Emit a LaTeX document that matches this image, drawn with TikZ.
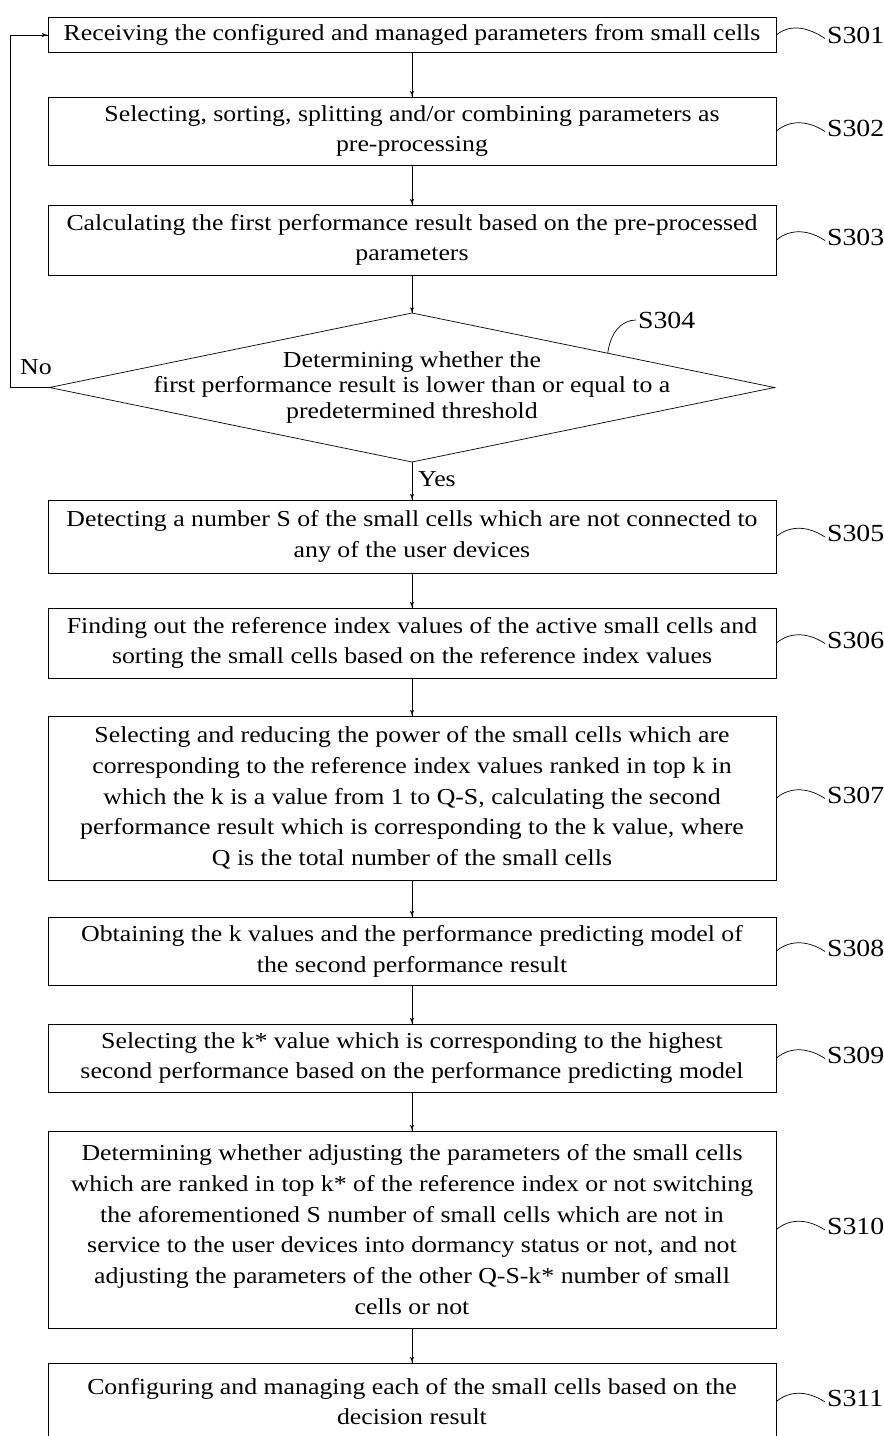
\documentclass[tikz,border=0pt]{standalone}
\usepackage{fontspec}
\setmainfont{Liberation Serif}[FakeStretch=1.13]
\usepackage{tikz}
\usetikzlibrary{arrows}
\usetikzlibrary{decorations.markings}
\usetikzlibrary{calc}
\usetikzlibrary{positioning}
\tikzset{->/.style = {decoration={markings,
                                  mark=at position 1 with {\arrow[scale=0.8]{latex'}}},
                      postaction={decorate}}}
\tikzset{stepbox/.style = {draw, thin, align=center, minimum width=14.56cm,
                           inner sep=2pt, font=\fontsize{13}{17.5}\selectfont}}
\tikzset{steplabel/.style = {anchor=west, inner sep=1pt, font=\fontsize{14}{15}\selectfont}}

\begin{document}
\begin{tikzpicture}
      \useasboundingbox (0, 0) rectangle (17.68, -28.72);

      \node [stepbox, minimum height=0.70cm] (s301) at (8.24, -0.70)
            {Receiving the configured and managed parameters from small cells};
      \node [stepbox, minimum height=1.36cm] (s302) at (8.24, -2.62)
            {Selecting, sorting, splitting and/or combining parameters as\\pre-processing};
      \node [stepbox, minimum height=1.40cm] (s303) at (8.24, -4.80)
            {Calculating the first performance result based on the pre-processed\\parameters};

      % decision
      \coordinate (d304n) at (8.24, -6.26);
      \coordinate (d304e) at (15.49, -7.75);
      \coordinate (d304s) at (8.24, -9.24);
      \coordinate (d304w) at (0.99, -7.75);
      \draw [thin] (d304n) -- (d304e) -- (d304s) -- (d304w) -- cycle;
      \node [align=center, font=\fontsize{13}{14.5}\selectfont] (s304) at (8.24, -7.75)
            {Determining whether the\\first performance result is lower than or equal to a\\predetermined threshold};

      \node [stepbox, minimum height=1.46cm] (s305) at (8.24, -10.73)
            {Detecting a number S of the small cells which are not connected to\\any of the user devices};
      \node [stepbox, minimum height=1.40cm] (s306) at (8.24, -12.86)
            {Finding out the reference index values of the active small cells and\\sorting the small cells based on the reference index values};
      \node [stepbox, minimum height=3.28cm] (s307) at (8.24, -15.96)
            {Selecting and reducing the power of the small cells which are\\corresponding to the reference index values ranked in top k in\\which the k is a value from 1 to Q-S, calculating the second\\performance result which is corresponding to the k value, where\\Q is the total number of the small cells};
      \node [stepbox, minimum height=1.36cm] (s308) at (8.24, -19.02)
            {Obtaining the k values and the performance predicting model of\\the second performance result};
      \node [stepbox, minimum height=1.36cm] (s309) at (8.24, -21.16)
            {Selecting the k* value which is corresponding to the highest\\second performance based on the performance predicting model};
      \node [stepbox, minimum height=3.94cm] (s310) at (8.24, -24.59)
            {Determining whether adjusting the parameters of the small cells\\which are ranked in top k* of the reference index or not switching\\the aforementioned S number of small cells which are not in\\service to the user devices into dormancy status or not, and not\\adjusting the parameters of the other Q-S-k* number of small\\cells or not};
      \node [stepbox, minimum height=1.54cm] (s311) at (8.24, -28.03)
            {Configuring and managing each of the small cells based on the\\decision result};

      \draw [->] (s301) -- (s302);
      \draw [->] (s302) -- (s303);
      \draw [->] (s303) -- (d304n);
      \draw [->] (d304s) -- (s305) node [pos=0.45, right, font=\fontsize{13}{15}\selectfont] {Yes};
      \draw [->] (s305) -- (s306);
      \draw [->] (s306) -- (s307);
      \draw [->] (s307) -- (s308);
      \draw [->] (s308) -- (s309);
      \draw [->] (s309) -- (s310);
      \draw [->] (s310) -- (s311);

      \coordinate (back) at (0.2, -7.75);
      \draw [thin] (d304w) -- (back);
      \draw [->] (back) |- (s301.west);
      \node [font=\fontsize{13}{15}\selectfont] (no) at (0.72, -7.34) {No};

      \node [steplabel] (l301) at (16.5, -0.70) {S301};
      \node [steplabel] (l302) at (16.5, -2.56) {S302};
      \node [steplabel] (l303) at (16.5, -4.74) {S303};
      \node [steplabel] (l304) at (12.72, -6.40) {S304};
      \node [steplabel] (l305) at (16.5, -10.67) {S305};
      \node [steplabel] (l306) at (16.5, -12.80) {S306};
      \node [steplabel] (l307) at (16.5, -15.90) {S307};
      \node [steplabel] (l308) at (16.5, -18.96) {S308};
      \node [steplabel] (l309) at (16.5, -21.10) {S309};
      \node [steplabel] (l310) at (16.5, -24.53) {S310};
      \node [steplabel] (l311) at (16.5, -27.97) {S311};

      \coordinate (d304t) at ($(d304n)!0.54!(d304e)$);
      \draw [thin] (s301.east) .. controls +(0.3, 0.25) and +(-0.3, 0.2) .. ([yshift=-2pt]l301.west);
      \draw [thin] (s302.east) .. controls +(0.3, 0.25) and +(-0.3, 0.2) .. ([yshift=-2pt]l302.west);
      \draw [thin] (s303.east) .. controls +(0.3, 0.25) and +(-0.3, 0.2) .. ([yshift=-2pt]l303.west);
      \draw [thin] (d304t) .. controls +(0.05, 0.4) and +(-0.3, 0) .. (l304.west);
      \draw [thin] (s305.east) .. controls +(0.3, 0.25) and +(-0.3, 0.2) .. ([yshift=-2pt]l305.west);
      \draw [thin] (s306.east) .. controls +(0.3, 0.25) and +(-0.3, 0.2) .. ([yshift=-2pt]l306.west);
      \draw [thin] (s307.east) .. controls +(0.3, 0.25) and +(-0.3, 0.2) .. ([yshift=-2pt]l307.west);
      \draw [thin] (s308.east) .. controls +(0.3, 0.25) and +(-0.3, 0.2) .. ([yshift=-2pt]l308.west);
      \draw [thin] (s309.east) .. controls +(0.3, 0.25) and +(-0.3, 0.2) .. ([yshift=-2pt]l309.west);
      \draw [thin] (s310.east) .. controls +(0.3, 0.25) and +(-0.3, 0.2) .. ([yshift=-2pt]l310.west);
      \draw [thin] (s311.east) .. controls +(0.3, 0.25) and +(-0.3, 0.2) .. ([yshift=-2pt]l311.west);
    \end{tikzpicture}
\end{document}
